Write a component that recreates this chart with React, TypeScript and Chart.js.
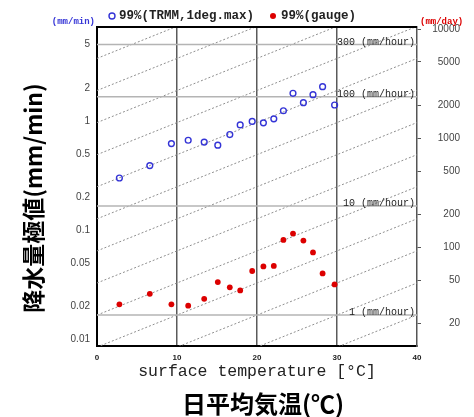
import React, { useEffect, useRef } from 'react';
import { Chart, registerables } from 'chart.js';

Chart.register(...registerables);

// ---- data ----
const temperatures = [2.8, 6.6, 9.3, 11.4, 13.4, 15.1, 16.6, 17.9, 19.4, 20.8, 22.1, 23.3, 24.5, 25.8, 27.0, 28.2, 29.7];
const trmmMax = [0.30, 0.39, 0.62, 0.665, 0.64, 0.60, 0.75, 0.92, 0.99, 0.96, 1.045, 1.24, 1.79, 1.47, 1.74, 2.06, 1.40];
const gaugeMax = [0.0209, 0.0261, 0.0209, 0.0203, 0.0235, 0.0334, 0.0299, 0.0280, 0.0422, 0.0465, 0.047, 0.0813, 0.0929, 0.0802, 0.0624, 0.0401, 0.0318];

const leftTicks = [0.01, 0.02, 0.05, 0.1, 0.2, 0.5, 1, 2, 5];
const rightTicks = [20, 50, 100, 200, 500, 1000, 2000, 5000, 10000];
const xTicks = [0, 10, 20, 30, 40];
const mmHourLevels = [1, 10, 100, 300];
// Clausius-Clapeyron guide lines: each passes through (T, 1 mm/hour), 7%/K
const ccAnchorTemps = [-80, -70, -60, -50, -40, -30, -20, -10, 0, 10, 20, 30, 40];
const ccRate = 0.07;

const X_MIN = 0;
const X_MAX = 40;
const Y_MIN = 0.00868;
const Y_MAX = 7.25;
const MIN_PER_DAY = 1440;
const MIN_PER_HOUR = 60;

const BLUE = '#3434d6';
const RED = '#dc0000';

const ccValue = (anchor: number, t: number) => (1 / MIN_PER_HOUR) * Math.pow(1 + ccRate, t - anchor);

const textPlugin = {
  id: 'textPlugin',
  afterDraw(chart: any) {
    const ctx = chart.ctx as CanvasRenderingContext2D;
    const area = chart.chartArea;
    const ys = chart.scales.y;
    ctx.save();

    // top border
    ctx.strokeStyle = '#000';
    ctx.lineWidth = 2;
    ctx.beginPath();
    ctx.moveTo(area.left - 1, area.top);
    ctx.lineTo(area.right, area.top);
    ctx.stroke();

    // mm/hour labels
    ctx.fillStyle = '#222';
    ctx.font = '10px "Liberation Mono", monospace';
    ctx.textAlign = 'right';
    ctx.textBaseline = 'middle';
    mmHourLevels.forEach((h) => {
      const py = ys.getPixelForValue(h / MIN_PER_HOUR);
      ctx.fillText(`${h} (mm/hour)`, area.right - 2, py - 2.5);
    });

    // unit labels
    ctx.font = 'bold 9px "Liberation Mono", monospace';
    ctx.fillStyle = BLUE;
    ctx.textAlign = 'right';
    ctx.fillText('(mm/min)', area.left - 2, 22);
    ctx.fillStyle = RED;
    ctx.textAlign = 'left';
    ctx.fillText('(mm/day)', area.right + 3, 22);

    // legend
    ctx.lineWidth = 1.4;
    ctx.strokeStyle = BLUE;
    ctx.beginPath();
    ctx.arc(112, 16, 3, 0, Math.PI * 2);
    ctx.stroke();
    ctx.fillStyle = RED;
    ctx.beginPath();
    ctx.arc(273, 16, 3, 0, Math.PI * 2);
    ctx.fill();
    ctx.fillStyle = '#222';
    ctx.font = 'bold 12.5px "Liberation Mono", monospace';
    ctx.textAlign = 'left';
    ctx.fillText('99%(TRMM,1deg.max)', 119, 16);
    ctx.fillText('99%(gauge)', 281, 16);

    // x-axis title
    ctx.fillStyle = '#222';
    ctx.font = '16.5px "Liberation Mono", monospace';
    ctx.textAlign = 'center';
    ctx.fillText('surface temperature [°C]', (area.left + area.right) / 2, 372);

    // Japanese titles
    ctx.fillStyle = '#000';
    ctx.font = 'bold 24px "Noto Sans CJK JP", sans-serif';
    ctx.fillText('日平均気温(℃)', 263, 404);
    ctx.font = 'bold 23px "Noto Sans CJK JP", sans-serif';
    ctx.translate(33, 198);
    ctx.rotate(-Math.PI / 2);
    ctx.fillText('降水量極値(mm/min)', 0, 0);

    ctx.restore();
  },
};

export default function App() {
  const canvasRef = useRef<HTMLCanvasElement | null>(null);

  useEffect(() => {
    const canvas = canvasRef.current;
    if (!canvas) return;

    const ccDatasets = ccAnchorTemps.map((a) => ({
      type: 'line' as const,
      data: [
        { x: X_MIN, y: ccValue(a, X_MIN) },
        { x: X_MAX, y: ccValue(a, X_MAX) },
      ],
      borderColor: '#8e8e8e',
      borderWidth: 1,
      borderDash: [2, 2],
      pointRadius: 0,
      order: 20,
    }));

    const hourDatasets = mmHourLevels.map((h) => ({
      type: 'line' as const,
      data: [
        { x: X_MIN, y: h / MIN_PER_HOUR },
        { x: X_MAX, y: h / MIN_PER_HOUR },
      ],
      borderColor: '#b4b4b4',
      borderWidth: 1.5,
      pointRadius: 0,
      order: 15,
    }));

    const chart = new Chart(canvas, {
      type: 'scatter',
      data: {
        datasets: [
          ...ccDatasets,
          ...hourDatasets,
          {
            type: 'scatter',
            data: temperatures.map((t, i) => ({ x: t, y: trmmMax[i] })),
            pointRadius: 2.9,
            pointBorderWidth: 1.4,
            borderColor: BLUE,
            backgroundColor: 'rgba(0,0,0,0)',
            pointBackgroundColor: 'rgba(0,0,0,0)',
            order: 1,
          },
          {
            type: 'scatter',
            data: temperatures.map((t, i) => ({ x: t, y: gaugeMax[i] })),
            pointRadius: 2.9,
            pointBorderWidth: 0,
            borderColor: RED,
            backgroundColor: RED,
            order: 0,
          },
        ] as any,
      },
      options: {
        responsive: false,
        animation: false,
        devicePixelRatio: 1,
        layout: { padding: { top: 27, left: 0, right: 14, bottom: 0 } },
        plugins: { legend: { display: false }, tooltip: { enabled: false } },
        scales: {
          x: {
            type: 'linear',
            min: X_MIN,
            max: X_MAX,
            afterBuildTicks: (s: any) => { s.ticks = xTicks.map((v) => ({ value: v })); },
            afterFit: (s: any) => { s.height = 71; },
            grid: {
              drawTicks: false,
              lineWidth: 1.5,
              color: (c: any) => (c.tick && (c.tick.value === 0 || c.tick.value === 40) ? 'rgba(0,0,0,0)' : '#5a5a5a'),
            },
            border: { display: true, color: '#000', width: 2 },
            ticks: {
              padding: 7,
              color: '#222',
              font: { family: 'Liberation Sans', size: 8, weight: 'bold' },
              maxRotation: 0,
              callback: (v: any) => String(v),
            },
          },
          y: {
            type: 'logarithmic',
            position: 'left',
            min: Y_MIN,
            max: Y_MAX,
            afterBuildTicks: (s: any) => { s.ticks = leftTicks.map((v) => ({ value: v })); },
            afterFit: (s: any) => { s.width = 97; },
            grid: { display: false, drawTicks: false },
            border: { display: true, color: '#000', width: 2 },
            ticks: {
              padding: 7,
              color: '#444',
              font: { family: 'Liberation Sans', size: 10 },
              callback: (v: any) => String(v),
            },
          },
          y2: {
            type: 'logarithmic',
            position: 'right',
            min: Y_MIN * MIN_PER_DAY,
            max: Y_MAX * MIN_PER_DAY,
            afterBuildTicks: (s: any) => { s.ticks = rightTicks.map((v) => ({ value: v })); },
            afterFit: (s: any) => { s.width = 43; },
            grid: { display: true, drawOnChartArea: false, drawTicks: true, tickLength: 4, color: '#555', lineWidth: 1 },
            border: { display: true, color: '#555', width: 1.5 },
            ticks: {
              padding: 3,
              crossAlign: 'far',
              color: '#444',
              font: { family: 'Liberation Sans', size: 10 },
              callback: (v: any) => String(v),
            },
          },
        },
      } as any,
      plugins: [textPlugin],
    });

    return () => chart.destroy();
  }, []);

  return (
    <div style={{ position: 'absolute', left: 0, top: 0, width: 474, height: 417, background: '#fff' }}>
      <canvas ref={canvasRef} width={474} height={417} style={{ display: 'block' }} />
    </div>
  );
}
